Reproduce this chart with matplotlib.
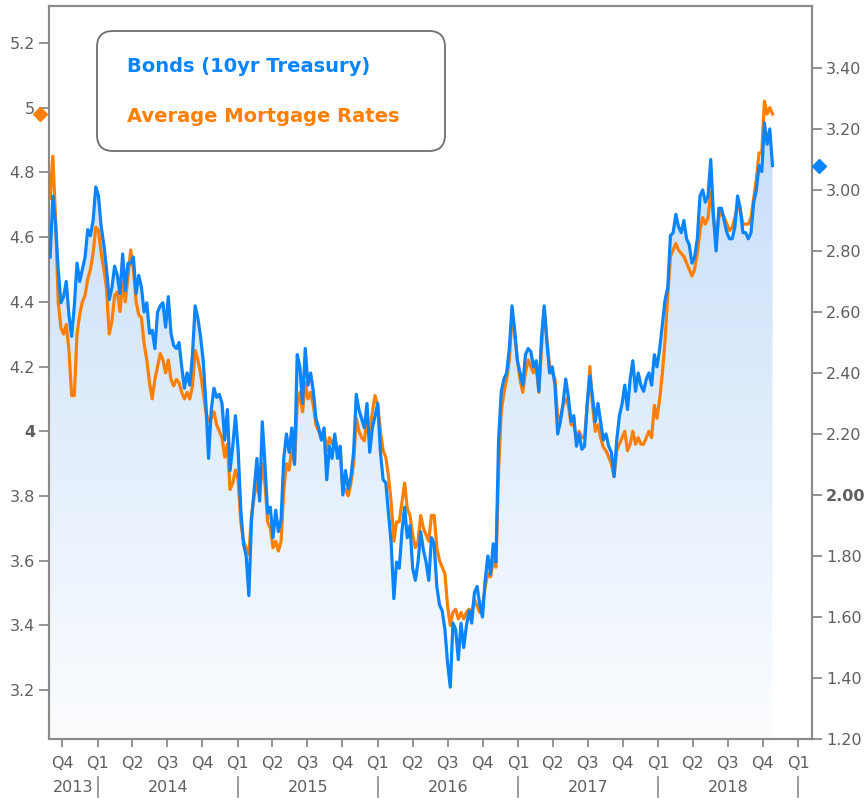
import numpy as np
import pandas as pd
import matplotlib
matplotlib.use('Agg')
import matplotlib.pyplot as plt
import matplotlib.dates as mdates
from matplotlib.patches import Polygon, FancyBboxPatch
from matplotlib.colors import LinearSegmentedColormap
from matplotlib.transforms import blended_transform_factory, IdentityTransform

plt.rcParams['font.family'] = ['DejaVu Sans']

# weekly (Friday) readings, 10yr Treasury yield (right axis)
bonds = [
    2.78, 2.98, 2.89, 2.74, 2.63, 2.65, 2.70, 2.59, 2.52, 2.62,
    2.76, 2.70, 2.74, 2.78, 2.87, 2.85, 2.90, 3.01, 2.98, 2.88,
    2.82, 2.74, 2.64, 2.68, 2.75, 2.72, 2.66, 2.79, 2.67, 2.76,
    2.76, 2.78, 2.66, 2.72, 2.68, 2.60, 2.63, 2.53, 2.54, 2.48,
    2.60, 2.62, 2.63, 2.55, 2.65, 2.53, 2.49, 2.48, 2.50, 2.42,
    2.35, 2.40, 2.36, 2.46, 2.62, 2.58, 2.52, 2.44, 2.30, 2.12,
    2.28, 2.35, 2.32, 2.33, 2.30, 2.18, 2.28, 2.08, 2.16, 2.26,
    2.15, 1.95, 1.84, 1.80, 1.67, 1.92, 2.02, 2.12, 1.98, 2.24,
    2.10, 1.94, 1.96, 1.86, 1.95, 1.88, 1.92, 2.12, 2.20, 2.14,
    2.22, 2.10, 2.46, 2.42, 2.30, 2.48, 2.36, 2.40, 2.34, 2.25,
    2.22, 2.18, 2.22, 2.05, 2.16, 2.12, 2.20, 2.12, 2.16, 2.00,
    2.08, 2.02, 2.06, 2.14, 2.33, 2.28, 2.25, 2.22, 2.30, 2.14,
    2.22, 2.26, 2.30, 2.14, 2.05, 2.04, 1.94, 1.84, 1.66, 1.78,
    1.76, 1.88, 1.96, 1.86, 1.90, 1.76, 1.72, 1.78, 1.88, 1.82,
    1.78, 1.72, 1.86, 1.84, 1.70, 1.64, 1.62, 1.56, 1.45, 1.37,
    1.58, 1.56, 1.46, 1.58, 1.50, 1.57, 1.62, 1.58, 1.68, 1.70,
    1.64, 1.60, 1.72, 1.80, 1.74, 1.84, 1.78, 2.18, 2.34, 2.38,
    2.40, 2.48, 2.62, 2.54, 2.44, 2.40, 2.36, 2.46, 2.48, 2.47,
    2.42, 2.44, 2.34, 2.52, 2.62, 2.50, 2.40, 2.42, 2.36, 2.20,
    2.24, 2.30, 2.38, 2.32, 2.24, 2.26, 2.16, 2.20, 2.15, 2.16,
    2.30, 2.39, 2.32, 2.24, 2.30, 2.24, 2.18, 2.20, 2.16, 2.14,
    2.06, 2.18, 2.26, 2.30, 2.36, 2.28, 2.38, 2.44, 2.34, 2.40,
    2.36, 2.34, 2.38, 2.40, 2.36, 2.46, 2.42, 2.48, 2.56, 2.64,
    2.68, 2.85, 2.86, 2.92, 2.88, 2.86, 2.90, 2.84, 2.82, 2.76,
    2.78, 2.84, 2.98, 3.00, 2.96, 2.98, 3.10, 2.92, 2.80, 2.94,
    2.94, 2.90, 2.86, 2.84, 2.84, 2.88, 2.98, 2.94, 2.86, 2.86,
    2.84, 2.86, 2.96, 3.00, 3.08, 3.06, 3.22, 3.15, 3.20, 3.08,
]

# weekly readings, average mortgage rate (left axis)
mortgage = [
    4.72, 4.85, 4.66, 4.40, 4.32, 4.30, 4.33, 4.25, 4.11, 4.11,
    4.30, 4.36, 4.40, 4.42, 4.47, 4.50, 4.55, 4.63, 4.62, 4.55,
    4.50, 4.44, 4.30, 4.34, 4.42, 4.43, 4.37, 4.46, 4.40, 4.48,
    4.56, 4.50, 4.40, 4.36, 4.35, 4.27, 4.22, 4.15, 4.10, 4.16,
    4.20, 4.24, 4.22, 4.18, 4.22, 4.16, 4.14, 4.16, 4.15, 4.12,
    4.10, 4.12, 4.10, 4.14, 4.25, 4.22, 4.18, 4.12, 4.06, 4.03,
    4.04, 4.06, 4.02, 4.00, 3.98, 3.92, 3.96, 3.82, 3.84, 3.88,
    3.85, 3.72, 3.66, 3.64, 3.62, 3.74, 3.80, 3.84, 3.80, 3.90,
    3.84, 3.72, 3.70, 3.64, 3.66, 3.63, 3.66, 3.82, 3.90, 3.88,
    3.95, 3.90, 4.08, 4.12, 4.06, 4.15, 4.10, 4.12, 4.08, 4.02,
    4.00, 3.98, 4.00, 3.94, 3.98, 3.96, 3.98, 3.94, 3.95, 3.82,
    3.82, 3.80, 3.84, 3.90, 4.04, 4.00, 3.98, 3.97, 4.04, 4.00,
    4.06, 4.11, 4.08, 4.00, 3.94, 3.92, 3.86, 3.78, 3.66, 3.72,
    3.72, 3.78, 3.84, 3.76, 3.74, 3.68, 3.64, 3.66, 3.74, 3.70,
    3.68, 3.66, 3.74, 3.74, 3.64, 3.60, 3.58, 3.56, 3.46, 3.40,
    3.44, 3.45, 3.42, 3.44, 3.42, 3.44, 3.45, 3.44, 3.48, 3.46,
    3.44, 3.46, 3.52, 3.56, 3.55, 3.60, 3.58, 3.88, 4.06, 4.12,
    4.16, 4.22, 4.36, 4.30, 4.22, 4.16, 4.12, 4.18, 4.22, 4.20,
    4.18, 4.20, 4.12, 4.26, 4.38, 4.28, 4.20, 4.18, 4.16, 4.04,
    4.04, 4.08, 4.10, 4.08, 4.02, 4.02, 3.98, 4.00, 3.98, 3.98,
    4.08, 4.20, 4.08, 4.00, 4.02, 3.98, 3.95, 3.94, 3.92, 3.90,
    3.86, 3.94, 3.96, 3.98, 4.00, 3.94, 3.96, 4.00, 3.96, 3.98,
    3.96, 3.96, 3.98, 4.00, 3.98, 4.08, 4.04, 4.10, 4.18, 4.28,
    4.42, 4.54, 4.56, 4.58, 4.56, 4.55, 4.54, 4.52, 4.50, 4.48,
    4.50, 4.55, 4.62, 4.66, 4.64, 4.66, 4.74, 4.66, 4.58, 4.66,
    4.68, 4.66, 4.64, 4.62, 4.63, 4.66, 4.70, 4.68, 4.64, 4.64,
    4.64, 4.66, 4.72, 4.78, 4.86, 4.86, 5.02, 4.98, 5.00, 4.98,
]

dates = pd.date_range('2013-08-30', periods=len(bonds), freq='W-FRI')

left_ticks = [3.2, 3.4, 3.6, 3.8, 4.0, 4.2, 4.4, 4.6, 4.8, 5.0, 5.2]
left_labels = ['3.2', '3.4', '3.6', '3.8', '4', '4.2', '4.4', '4.6', '4.8', '5', '5.2']
right_ticks = [1.2, 1.4, 1.6, 1.8, 2.0, 2.2, 2.4, 2.6, 2.8, 3.0, 3.2, 3.4]
right_labels = ['1.20', '1.40', '1.60', '1.80', '2.00', '2.20', '2.40', '2.60',
                '2.80', '3.00', '3.20', '3.40']

quarter_starts = pd.date_range('2013-10-01', '2019-01-01', freq='QS')
quarter_labels = ['Q4', 'Q1', 'Q2', 'Q3', 'Q4', 'Q1', 'Q2', 'Q3', 'Q4',
                  'Q1', 'Q2', 'Q3', 'Q4', 'Q1', 'Q2', 'Q3', 'Q4',
                  'Q1', 'Q2', 'Q3', 'Q4', 'Q1']
years = ['2013', '2014', '2015', '2016', '2017', '2018']

blue = '#0a84ff'
orange = '#ff7f00'
grey = '#8a8a8a'
text_grey = '#5f5f5f'

x_start = pd.Timestamp('2013-08-27')
x_end = pd.Timestamp('2019-02-06')

fig = plt.figure(figsize=(8.64, 8.0), dpi=100)
ax = fig.add_axes([49 / 864, 61 / 800, 763 / 864, 733 / 800])
ax2 = ax.twinx()

# gradient area under the treasury line (drawn in the left axes so it sits below both lines)
xs = mdates.date2num(dates)
verts = [(xs[0], 1.2)] + list(zip(xs, bonds)) + [(xs[-1], 1.2)]
area = Polygon(verts, closed=True, transform=ax2.transData, facecolor='none', edgecolor='none')
ax.add_patch(area)
cmap = LinearSegmentedColormap.from_list('fade', ['#fcfdff', '#bcd8f8'])
grad = np.linspace(1, 0, 256).reshape(-1, 1)
im = ax.imshow(grad, extent=[0, 1, 0, 1], transform=ax.transAxes, cmap=cmap,
               aspect='auto', origin='upper', zorder=1)
im.set_clip_path(area)

ax.plot(dates, mortgage, color=orange, lw=2.3, zorder=3)
ax2.plot(dates, bonds, color=blue, lw=2.3, zorder=3)

ax.set_xlim(x_start, x_end)
ax.set_ylim(3.049, 5.314)
ax2.set_ylim(1.20, 3.603)

# last-value diamonds just outside the plot
ax.plot([-0.012], [mortgage[-1]], marker='D', ms=7, color=orange, clip_on=False,
        transform=blended_transform_factory(ax.transAxes, ax.transData), zorder=5)
ax2.plot([1.0095], [bonds[-1]], marker='D', ms=7, color=blue, clip_on=False,
         transform=blended_transform_factory(ax2.transAxes, ax2.transData), zorder=5)

for a in (ax, ax2):
    for s in a.spines.values():
        s.set_color(grey)
        s.set_linewidth(1.5)

ax.set_yticks(left_ticks)
ax.set_yticklabels(left_labels)
ax2.set_yticks(right_ticks)
ax2.set_yticklabels(right_labels)
ax.tick_params(axis='y', direction='out', length=7, width=1.3, color=grey,
               labelcolor=text_grey, labelsize=11.5, pad=3)
ax2.tick_params(axis='y', direction='out', length=7, width=1.3, color=grey,
                labelcolor=text_grey, labelsize=11.5, pad=3)
for lbl in ax.get_yticklabels():
    if lbl.get_text() == '4':
        lbl.set_fontweight('bold')
for lbl in ax2.get_yticklabels():
    if lbl.get_text() == '2.00':
        lbl.set_fontweight('bold')

ax.set_xticks(quarter_starts)
ax.set_xticklabels(quarter_labels)
ax.tick_params(axis='x', direction='out', length=6, width=1.3, color=grey,
               labelcolor=text_grey, labelsize=11.5, pad=6)

# year row with separators
trans = blended_transform_factory(ax.transData, fig.transFigure)
year_bounds = [x_start] + [pd.Timestamp(f'{y}-01-01') for y in range(2014, 2020)]
for d in year_bounds[1:]:
    ax.plot([d, d], [0.004, 0.029], transform=trans, color=grey, lw=1.2, clip_on=False)
for i, y in enumerate(years):
    mid = year_bounds[i] + (year_bounds[i + 1] - year_bounds[i]) / 2
    ax.text(mid, 0.016, y, transform=trans, ha='center', va='center',
            fontsize=11.5, color=text_grey)

# legend box
box = FancyBboxPatch((97, 649), 348, 120, boxstyle='round,pad=0,rounding_size=16',
                     transform=IdentityTransform(), facecolor='white',
                     edgecolor='#6e6e6e', linewidth=1.3, zorder=10)
fig.add_artist(box)
fig.text(127 / 864, 1 - 67 / 800, 'Bonds (10yr Treasury)', color=blue,
         fontsize=14, fontweight='bold', ha='left', va='center', zorder=11)
fig.text(127 / 864, 1 - 117 / 800, 'Average Mortgage Rates', color=orange,
         fontsize=14, fontweight='bold', ha='left', va='center', zorder=11)

fig.savefig('out.png', dpi=100)
